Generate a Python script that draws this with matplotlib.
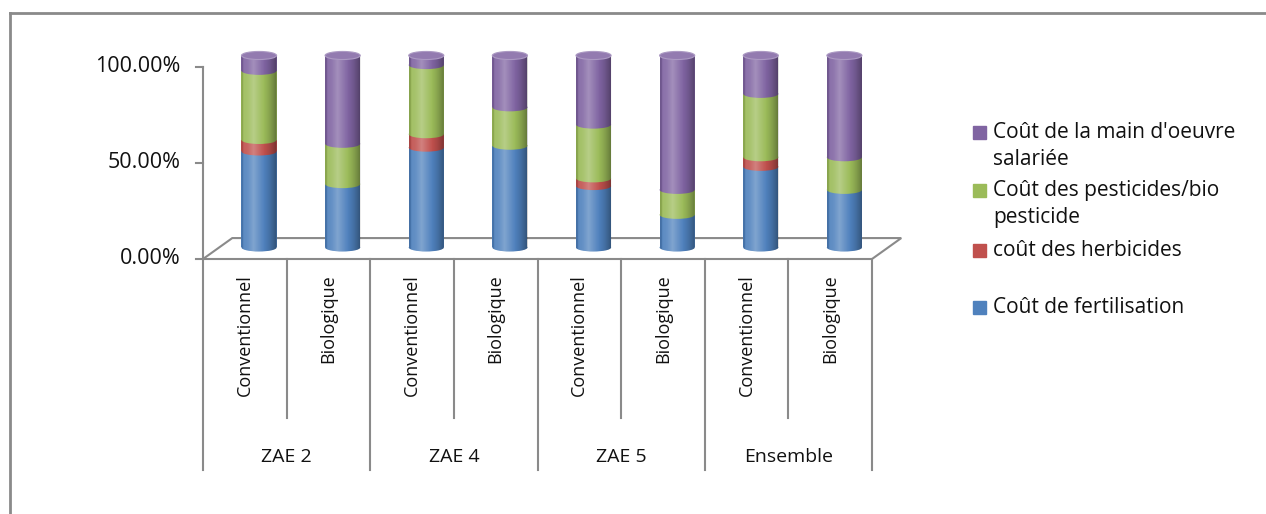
import numpy as np
import matplotlib.pyplot as plt
from matplotlib.patches import Ellipse, Polygon
from matplotlib.lines import Line2D

plt.rcParams['font.family'] = ['Open Sans', 'DejaVu Sans']

# data (percent of total cost)
groups = ['ZAE 2', 'ZAE 4', 'ZAE 5', 'Ensemble']
categories = ['Conventionnel', 'Biologique'] * 4
fertilisation = [50, 33, 52, 53, 32, 17, 42, 30]
herbicides = [6, 0, 7, 0, 4, 0, 5, 0]
pesticides = [36, 21, 36, 20, 28, 13, 33, 17]
main_oeuvre = [8, 46, 5, 27, 36, 70, 20, 53]

series = [fertilisation, herbicides, pesticides, main_oeuvre]
colors = ['#4F81BD', '#C0504D', '#9BBB59', '#8064A2']
labels = ["Coût de fertilisation", "coût des herbicides",
          "Coût des pesticides/bio\npesticide",
          "Coût de la main d'oeuvre\nsalariée"]
yticks = [0, 50, 100]

W, H = 1266, 514
fig = plt.figure(figsize=(W / 100, H / 100), dpi=100)

# axes placed so that 0..8 slots span x=203..872 px and 0..100% span y=259..67 px
ax = fig.add_axes([203 / W, (H - 259) / H, (872 - 203) / W, (259 - 67) / H])
ax.set_xlim(0, 8)
ax.set_ylim(0, 100)
ax.axis('off')

grey = '#8a8a8a'
txt = '#111111'
depth_x, depth_y = 0.35, 10.9   # back of the floor
off_x, off_y = 0.17, 6.0        # cylinders sit mid-depth
bw = 0.42
eh = 4.2

# floor
floor = Polygon([(0, 0), (8, 0), (8 + depth_x, depth_y), (depth_x, depth_y)],
                closed=True, fill=False, edgecolor=grey, lw=1.5, clip_on=False, zorder=1)
ax.add_patch(floor)
# y axis + ticks
ax.plot([0, 0], [0, 100], color=grey, lw=1.5, clip_on=False, zorder=1)
for t in yticks:
    ax.plot([-0.085, 0], [t, t], color=grey, lw=1.5, clip_on=False, zorder=1)
    ax.text(-0.27, t, f'{t:.2f}%', ha='right', va='center', fontsize=15.5, color=txt)

# category axis dividers and labels below the floor
for i in range(9):
    bottom = -110 if i % 2 == 0 else -83
    ax.plot([i, i], [0, bottom], color=grey, lw=1.5, clip_on=False, zorder=1)
for i, c in enumerate(categories):
    ax.text(i + 0.5, -8, c, rotation=90, ha='center', va='top', fontsize=13, color=txt)
for g, name in enumerate(groups):
    ax.text(2 * g + 1, -103, name, ha='center', va='center', fontsize=14, color=txt)

# shading across a cylinder
n = 64
t = np.linspace(0, 1, n)
shade = np.zeros((1, n, 4))
light = np.clip(1 - np.abs(t - 0.35) / 0.3, 0, 1)
dark = np.clip((np.abs(t - 0.4) - 0.2) / 0.4, 0, 1)
shade[0, :, :3] = np.where(light[:, None] > 0, 1.0, 0.0)
shade[0, :, 3] = 0.28 * light + 0.38 * dark ** 1.5


def lighter(c, f=0.25):
    r, g, b = [int(c[k:k + 2], 16) / 255 for k in (1, 3, 5)]
    return (r + (1 - r) * f, g + (1 - g) * f, b + (1 - b) * f)


z = 3
for i in range(len(categories)):
    xc = i + 0.5 + off_x
    base = off_y
    for s, col in zip(series, colors):
        v = s[i]
        if v <= 0:
            continue
        ax.bar(xc, v, bottom=base, width=bw, color=col, lw=0, clip_on=False, zorder=z)
        ax.add_patch(Ellipse((xc, base), bw, eh, color=col, lw=0, clip_on=False, zorder=z))
        z += 1
        top = base + v
        last_col = col
        base = top
    # outline for the shading overlay
    th = np.linspace(np.pi, 2 * np.pi, 30)
    pts = [(xc + bw / 2 * np.cos(a), off_y + eh / 2 * np.sin(a)) for a in th]
    pts += [(xc + bw / 2, top), (xc - bw / 2, top)]
    clip = Polygon(pts, closed=True, transform=ax.transData, fill=False, lw=0)
    ax.add_patch(clip)
    im = ax.imshow(shade, extent=[xc - bw / 2, xc + bw / 2, off_y - eh / 2, top],
                   aspect='auto', zorder=z, interpolation='bilinear')
    im.set_clip_box(fig.bbox)
    im.set_clip_path(clip)
    z += 1
    ax.add_patch(Ellipse((xc, top), bw, eh, facecolor=lighter(last_col, 0.15),
                         edgecolor=lighter(last_col, 0.35), lw=0.8, clip_on=False, zorder=z))
    z += 1

ax.set_xlim(0, 8)
ax.set_ylim(0, 100)

# legend drawn by hand, top entry first
leg_y = [132, 190, 250, 307]
for yy, lab, col in zip(leg_y, labels[::-1], colors[::-1]):
    fig.patches.append(plt.Rectangle((973 / W, (H - yy - 7) / H), 13 / W, 13 / H,
                                     transform=fig.transFigure, color=col))
    fig.text(993 / W, (H - yy + 10) / H, lab, ha='left', va='top',
             fontsize=15, color=txt, linespacing=1.4,
             transform=fig.transFigure)

# chart border (top and left visible)
fig.add_artist(Line2D([9.5 / W, 1266 / W], [(H - 13) / H, (H - 13) / H], color=grey, lw=2))
fig.add_artist(Line2D([9.5 / W, 9.5 / W], [0, (H - 13) / H], color=grey, lw=2))

fig.savefig('out.png', dpi=100)
